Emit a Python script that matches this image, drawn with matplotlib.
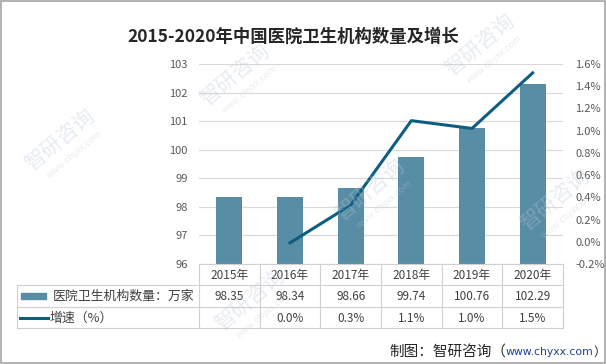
import numpy as np
import matplotlib
matplotlib.use('Agg')
import matplotlib.pyplot as plt
from matplotlib.lines import Line2D
from matplotlib.patches import Rectangle
from matplotlib.transforms import blended_transform_factory

plt.rcParams['font.family'] = ['Noto Sans CJK SC', 'DejaVu Sans']

# ------------------- DADOS -------------------
years = ['2015年', '2016年', '2017年', '2018年', '2019年', '2020年']
hospitals = [98.35, 98.34, 98.66, 99.74, 100.76, 102.29]
growth = [np.nan, -0.01, 0.33, 1.09, 1.02, 1.52]
growth_labels = ['', '0.0%', '0.3%', '1.1%', '1.0%', '1.5%']
bar_name = '医院卫生机构数量：万家'
line_name = '增速（%）'
title = '2015-2020年中国医院卫生机构数量及增长'

W, H = 606, 364
bar_color = '#588DA6'
line_color = '#0E5E80'
grid_color = '#D9D9D9'
border_color = '#D0D0D0'
tick_color = '#595959'
text_color = '#404040'

def fy(py):
    # pixel (from top) -> figure fraction
    return 1 - py / H

def fx(px):
    return px / W

fig = plt.figure(figsize=(W / 100, H / 100), dpi=100)
ax = fig.add_axes([fx(199), fy(264), fx(563) - fx(199), fy(64) - fy(264)])

x = np.arange(len(years))
ax.bar(x, hospitals, width=0.43, color=bar_color, zorder=2)
ax.set_xlim(-0.5, len(years) - 0.5)
ax.set_ylim(96, 103)
ax.set_yticks(range(96, 104))
ax.grid(axis='y', color=grid_color, linewidth=0.8, zorder=0)
ax.set_xticks([])
ax.tick_params(axis='y', length=0, pad=8, labelsize=8, labelcolor=tick_color)
for s in ['top', 'right', 'left']:
    ax.spines[s].set_visible(False)
ax.spines['bottom'].set_color(border_color)

ax2 = ax.twinx()
ax2.plot(x, growth, color=line_color, linewidth=2.2, zorder=3)
ax2.set_ylim(-0.2, 1.6)
ax2.set_yticks(np.arange(-0.2, 1.61, 0.2))
ax2.set_yticklabels([f'{v:.1f}%' for v in np.arange(-0.2, 1.61, 0.2)])
ax2.tick_params(axis='y', length=0, pad=9, labelsize=8, labelcolor=tick_color)
for s in ['top', 'right', 'left', 'bottom']:
    ax2.spines[s].set_visible(False)

# ------------------- TABELA -------------------
tr = blended_transform_factory(ax.transData, fig.transFigure)
row_y = [264, 285, 307, 328]
x_left, x_right = 17, 563
for yy in row_y[1:]:
    fig.add_artist(Line2D([fx(x_left), fx(x_right)], [fy(yy), fy(yy)],
                          color=border_color, linewidth=0.8))
for b in np.arange(-0.5, len(years), 1.0):
    ax.plot([b, b], [fy(264), fy(328)], transform=tr, color=border_color,
            linewidth=0.8, clip_on=False)
fig.add_artist(Line2D([fx(x_left), fx(x_left)], [fy(285), fy(328)],
                      color=border_color, linewidth=0.8))

for i in range(len(years)):
    ax.text(x[i], fy(275), years[i], transform=tr, ha='center', va='center',
            fontsize=8.5, color=text_color)
    ax.text(x[i], fy(296), f'{hospitals[i]:.2f}', transform=tr, ha='center',
            va='center', fontsize=8.5, color=text_color)
    ax.text(x[i], fy(318), growth_labels[i], transform=tr, ha='center',
            va='center', fontsize=8.5, color=text_color)

fig.add_artist(Rectangle((fx(21), fy(299)), fx(46) - fx(21), fy(293) - fy(299),
                         color=bar_color))
fig.text(fx(53), fy(296), bar_name, ha='left', va='center', fontsize=9.3, color=text_color)
fig.add_artist(Line2D([fx(20), fx(48)], [fy(318), fy(318)], color=line_color, linewidth=2.2))
fig.text(fx(50), fy(318), line_name, ha='left', va='center', fontsize=9.3, color=text_color)

# ------------------- TITULO / FONTE -------------------
fig.text(fx(293), fy(37), title, ha='center', va='center', fontsize=12.5,
         fontweight='bold', color='#262626')
fig.text(fx(389), fy(352), '制图：智研咨询（', ha='left', va='center', fontsize=10.5, color='#262626')
fig.text(fx(506), fy(352), 'www.chyxx.com', ha='left', va='center', fontsize=7.8,
         color='#1F3F99', family='DejaVu Sans')
fig.text(fx(593), fy(352), '）', ha='left', va='center', fontsize=9, color='#262626')

# marca d'agua
for (wx, wy) in [(60, 140), (235, 75), (480, 45), (370, 190), (555, 200), (250, 300)]:
    fig.text(fx(wx), fy(wy), '智研咨询', rotation=40, ha='center', va='center',
             fontsize=15, color='#BCC8D8', alpha=0.35)
    fig.text(fx(wx + 14), fy(wy + 14), 'www.chyxx.com', rotation=40, ha='center',
             va='center', fontsize=6.5, color='#BCC8D8', alpha=0.35)

# moldura
fig.add_artist(Rectangle((0.001, 0.002), 0.997, 0.995, fill=False,
                         edgecolor='#A6A6A6', linewidth=1.2))

plt.savefig('out.png', dpi=100)
